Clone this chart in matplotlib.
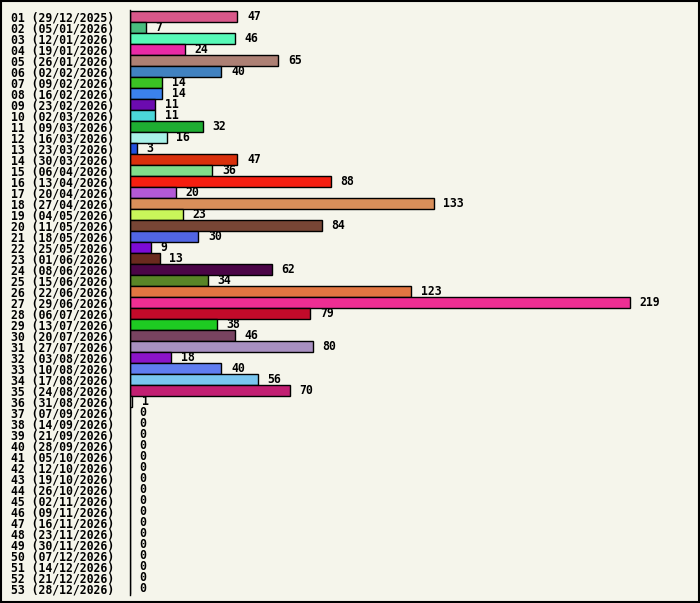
import matplotlib
matplotlib.use("Agg")
from matplotlib import pyplot as plt
from matplotlib.patches import Rectangle

# semanas e valores
semanas = ["29/12/2025", "05/01/2026", "12/01/2026", "19/01/2026", "26/01/2026",
           "02/02/2026", "09/02/2026", "16/02/2026", "23/02/2026", "02/03/2026",
           "09/03/2026", "16/03/2026", "23/03/2026", "30/03/2026", "06/04/2026",
           "13/04/2026", "20/04/2026", "27/04/2026", "04/05/2026", "11/05/2026",
           "18/05/2026", "25/05/2026", "01/06/2026", "08/06/2026", "15/06/2026",
           "22/06/2026", "29/06/2026", "06/07/2026", "13/07/2026", "20/07/2026",
           "27/07/2026", "03/08/2026", "10/08/2026", "17/08/2026", "24/08/2026",
           "31/08/2026", "07/09/2026", "14/09/2026", "21/09/2026", "28/09/2026",
           "05/10/2026", "12/10/2026", "19/10/2026", "26/10/2026", "02/11/2026",
           "09/11/2026", "16/11/2026", "23/11/2026", "30/11/2026", "07/12/2026",
           "14/12/2026", "21/12/2026", "28/12/2026"]
valores = [47, 7, 46, 24, 65, 40, 14, 14, 11, 11, 32, 16, 3, 47, 36, 88, 20, 133,
           23, 84, 30, 9, 13, 62, 34, 123, 219, 79, 38, 46, 80, 18, 40, 56, 70, 1] + [0] * 17
cores = ["#d9588a", "#48bd7e", "#57f9b7", "#e92aa6", "#ad8074", "#4182c0", "#3bc324",
         "#3b82ed", "#6b0baf", "#4bd6d8", "#1ead32", "#a8f1e8", "#2250dc", "#d9300c",
         "#80dd8b", "#f51f10", "#b359d6", "#d98f5a", "#c9f55a", "#774535", "#5165e3",
         "#7c0bd6", "#6a2a1e", "#4b0547", "#598527", "#e27641", "#ee2e93", "#c20a2a",
         "#1ecb22", "#784360", "#a890c0", "#8b14c8", "#607df0", "#79c6f0", "#c21f72",
         "#f5f5eb"] + ["#f5f5eb"] * 17
rotulos = ["%02d (%s)" % (i + 1, s) for i, s in enumerate(semanas)]

fundo = "#f5f5eb"
W, H = 700, 603
fig = plt.figure(figsize=(W / 100, H / 100), dpi=100, facecolor=fundo)
# eixo: linha zero em x=130px, topo 10px, base 595px
ax = fig.add_axes([130 / W, 1 - 595 / H, (W - 130) / W, 585 / H])
ax.set_facecolor(fundo)

pos = list(range(len(valores)))
ax.barh(pos, valores, height=1.0, color=cores, edgecolor="black", linewidth=1.0)

px = 500 / 219  # pixels por unidade
ax.set_xlim(0, (W - 130) / px)
ax.set_ylim(52.6, -0.55)

fonte = dict(family="DejaVu Sans Mono", weight="bold", size=8.3)
for p, v in zip(pos, valores):
    ax.annotate(str(v), (v, p), xytext=(7, 0), textcoords="offset points",
                va="center", ha="left", **fonte)

ax.set_yticks(pos)
ax.set_yticklabels(rotulos, **fonte)
ax.tick_params(axis="y", length=0, pad=11.5)
ax.set_xticks([])
for lado in ["top", "right", "bottom"]:
    ax.spines[lado].set_visible(False)
ax.spines["left"].set_linewidth(1.0)

# moldura da figura
fig.patches.append(Rectangle((0.5 / W, 1 / H), 1 - 2 / W, 1 - 1.5 / H,
                             transform=fig.transFigure, fill=False,
                             edgecolor="black", linewidth=1.5))

fig.savefig("out.png", dpi=100, facecolor=fundo)
